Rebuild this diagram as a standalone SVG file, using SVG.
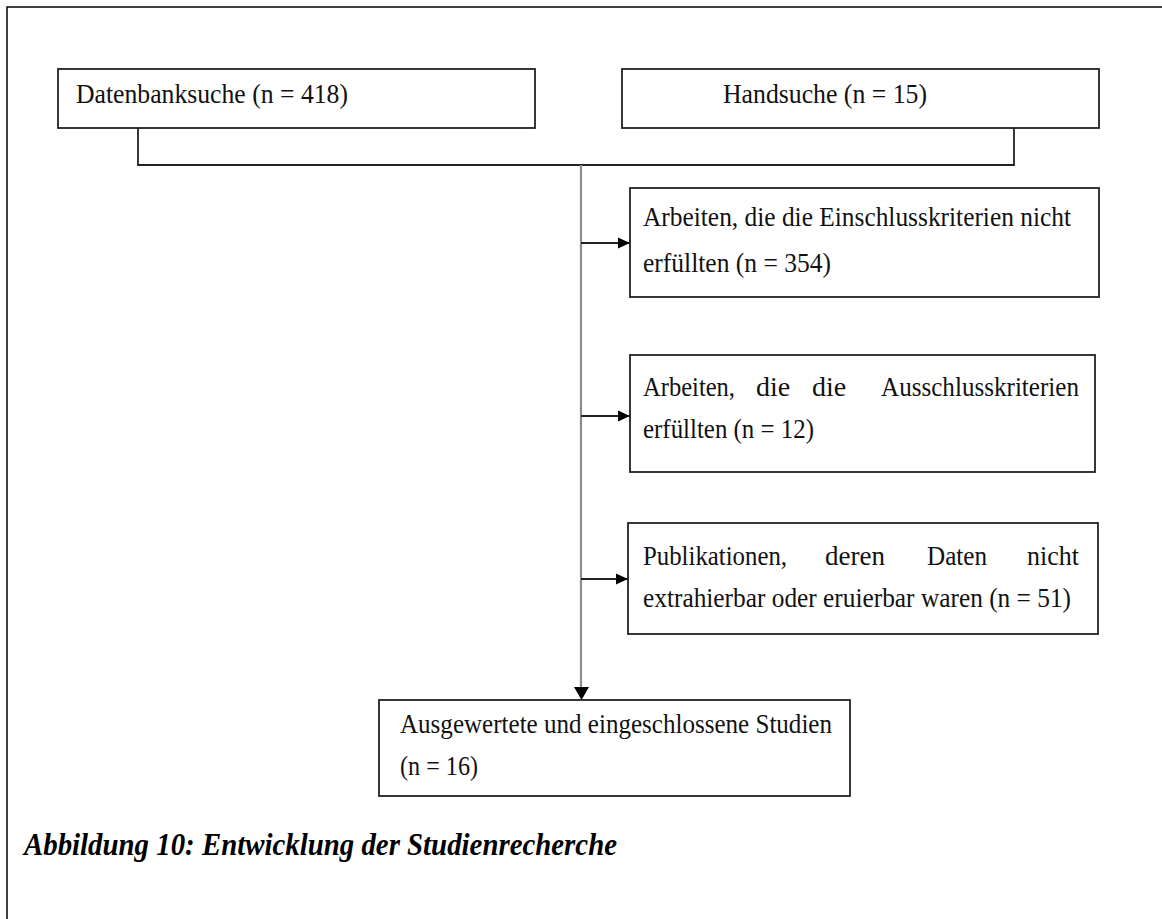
<svg xmlns="http://www.w3.org/2000/svg" width="1162" height="919" viewBox="0 0 1162 919">
<style>
.box{fill:#fff;stroke:#222;stroke-width:1.8}
.t{font-family:"Liberation Serif","Times New Roman",serif;font-size:28px;fill:#111}
.cap{font-family:"Liberation Serif","Times New Roman",serif;font-size:31px;font-weight:bold;font-style:italic;fill:#000}
.ln{fill:none;stroke:#222;stroke-width:1.8}
.gray{fill:none;stroke:#8c8c8c;stroke-width:2.2}
</style>
<defs>
<marker id="ah" markerUnits="userSpaceOnUse" markerWidth="14" markerHeight="14" refX="12" refY="7" orient="auto">
<path d="M0,1.5 L12,7 L0,12.5 Z" fill="#000"/>
</marker>
</defs>
<rect x="0" y="0" width="1162" height="919" fill="#fff"/>
<path d="M7,919 V7 H1162" fill="none" stroke="#000" stroke-width="1.5"/>

<g id="connectors">
<path class="ln" d="M138,128 V165 H1014 V128"/>
<line class="gray" x1="581" y1="165" x2="581" y2="690"/>
<path d="M574,687 L589,687 L581.5,700 Z" fill="#000"/>
<line class="ln" x1="581" y1="243" x2="630" y2="243" marker-end="url(#ah)"/>
<line class="ln" x1="581" y1="416" x2="630" y2="416" marker-end="url(#ah)"/>
<line class="ln" x1="581" y1="579" x2="628" y2="579" marker-end="url(#ah)"/>
</g>

<g id="datenbanksuche">
<rect class="box" x="58" y="69" width="477" height="59"/>
<text class="t" x="76" y="103" textLength="272" lengthAdjust="spacingAndGlyphs">Datenbanksuche  (n = 418)</text>
</g>

<g id="handsuche">
<rect class="box" x="622" y="69" width="477" height="59"/>
<text class="t" x="723" y="103" textLength="204" lengthAdjust="spacingAndGlyphs">Handsuche  (n = 15)</text>
</g>

<g id="einschluss">
<rect class="box" x="630" y="188" width="469" height="109"/>
<text class="t" x="643" y="226" textLength="428" lengthAdjust="spacingAndGlyphs">Arbeiten, die die Einschlusskriterien nicht</text>
<text class="t" x="643" y="272" textLength="188" lengthAdjust="spacingAndGlyphs">erfüllten  (n = 354)</text>
</g>

<g id="ausschluss">
<rect class="box" x="630" y="355" width="465" height="117"/>
<text class="t" x="643" y="396" textLength="92" lengthAdjust="spacingAndGlyphs">Arbeiten,</text>
<text class="t" x="756" y="396">die</text>
<text class="t" x="812" y="396">die</text>
<text class="t" x="881" y="396" textLength="198" lengthAdjust="spacingAndGlyphs">Ausschlusskriterien</text>
<text class="t" x="643" y="438" textLength="171" lengthAdjust="spacingAndGlyphs">erfüllten (n = 12)</text>
</g>

<g id="publikationen">
<rect class="box" x="628" y="523" width="470" height="111"/>
<text class="t" x="643" y="565" textLength="144" lengthAdjust="spacingAndGlyphs">Publikationen,</text>
<text class="t" x="825" y="565" textLength="60" lengthAdjust="spacingAndGlyphs">deren</text>
<text class="t" x="927" y="565" textLength="60" lengthAdjust="spacingAndGlyphs">Daten</text>
<text class="t" x="1027" y="565" textLength="52" lengthAdjust="spacingAndGlyphs">nicht</text>
<text class="t" x="643" y="607" textLength="428" lengthAdjust="spacingAndGlyphs">extrahierbar oder eruierbar waren  (n = 51)</text>
</g>

<g id="ausgewertete">
<rect class="box" x="379" y="700" width="471" height="96"/>
<text class="t" x="400" y="733" textLength="432" lengthAdjust="spacingAndGlyphs">Ausgewertete und eingeschlossene Studien</text>
<text class="t" x="400" y="775" textLength="78" lengthAdjust="spacingAndGlyphs">(n = 16)</text>
</g>

<text class="cap" x="24" y="855" textLength="593" lengthAdjust="spacingAndGlyphs">Abbildung 10: Entwicklung der Studienrecherche</text>
</svg>
